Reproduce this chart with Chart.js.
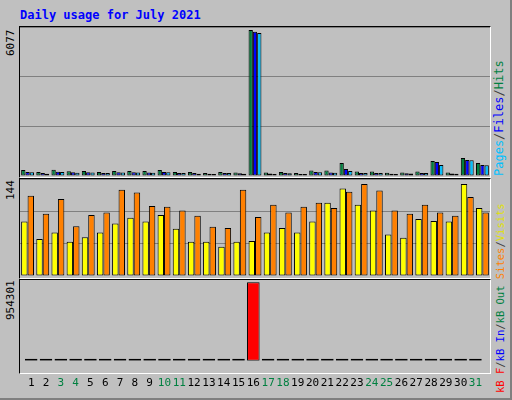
<!DOCTYPE html>
<html>
<head>
<script src="https://cdn.jsdelivr.net/npm/chart.js@4"></script>
<style>
body{margin:0;background:#fff;}
#wrap{position:absolute;left:0;top:0;width:510px;height:398px;background:#C0C0C0;border-right:2px solid #808080;border-bottom:2px solid #808080;font-family:"DejaVu Sans Mono",monospace;}
canvas{position:absolute;}
.panel{position:absolute;left:19px;width:470px;border-top:1px solid #000;border-left:1px solid #000;border-bottom:1px solid #fff;border-right:1px solid #fff;}
.rot{position:absolute;transform-origin:0 0;transform:rotate(-90deg);white-space:nowrap;font-size:11px;}
</style>
</head>
<body>
<div id="wrap">
  <div style="position:absolute;left:20px;top:8px;color:#0000FF;font-weight:bold;font-size:12px;">Daily usage for July 2021</div>
  <div class="panel" style="top:26px;height:150px;"></div>
  <div class="panel" style="top:178px;height:99px;"></div>
  <div class="panel" style="top:279px;height:93px;"></div>
  <canvas id="c1" style="left:20px;top:27px;"></canvas>
  <canvas id="c2" style="left:20px;top:179px;"></canvas>
  <canvas id="c3" style="left:20px;top:280px;"></canvas>
  <div class="rot" style="left:4px;top:56px;">6077</div>
  <div class="rot" style="left:4px;top:200px;">144</div>
  <div class="rot" style="left:4px;top:320px;">954301</div>
  <div class="rot" style="left:492px;top:176px;font-size:12px;"><span style="color:#00C0FF">Pages</span><span style="color:#404040">/</span><span style="color:#0000FF">Files</span><span style="color:#404040">/</span><span style="color:#008040">Hits</span></div>
  <div class="rot" style="left:494px;top:393px;font-size:10.5px;"><span style="color:#FF0000">kB F</span><span style="color:#404040">/</span><span style="color:#0000FF">kB In</span><span style="color:#404040">/</span><span style="color:#008040">kB Out</span> <span style="color:#FF8000">Sites</span><span style="color:#404040">/</span><span style="color:#E0E000">Visits</span></div>
</div>
<script>
const days = ['1','2','3','4','5','6','7','8','9','10','11','12','13','14','15','16','17','18','19','20','21','22','23','24','25','26','27','28','29','30','31'];
const weekend = ['3','4','10','11','17','18','24','25','31'];
const hits  = [250,170,260,200,210,170,210,210,210,250,170,170,120,170,150,6077,150,170,130,230,230,540,190,190,140,150,190,620,150,750,540];
const files = [170,120,180,160,160,130,160,160,150,170,130,120,90,130,110,6000,100,130,80,170,150,290,130,130,90,110,130,580,100,670,460];
const pages = [160,90,170,140,150,120,150,150,140,160,120,90,70,120,90,5950,80,110,60,160,140,210,120,120,80,100,120,460,90,660,450];
const visits = [84,57,67,53,60,67,81,90,84,94,73,53,53,45,53,54,67,74,67,84,113,135,110,101,64,59,88,85,84,142,105];
const sites  = [124,96,119,77,94,98,133,129,108,107,101,93,76,74,133,91,110,98,107,113,105,130,142,132,101,96,110,98,93,122,98];
const kbF = [4000,4000,4000,4000,4000,4000,4000,4000,4000,4000,4000,4000,4000,4000,4000,954301,4000,4000,4000,4000,4000,4000,4000,4000,4000,4000,4000,4000,4000,4000,4000];

function ds(label, data, color){
  return {label:label,data:data,backgroundColor:color,borderColor:'#000',borderWidth:1,borderSkipped:false,
          barPercentage:1,categoryPercentage:0.85,minBarLength:2};
}
function makeChart(id, w, h, datasets, max, showX, grid){
  const cv = document.getElementById(id);
  cv.width = w; cv.height = h;
  return new Chart(cv, {
    type:'bar',
    data:{labels:days, datasets:datasets},
    options:{
      responsive:false, animation:false, devicePixelRatio:1,
      plugins:{legend:{display:false},tooltip:{enabled:false}},
      layout:{padding:0},
      scales:{
        x:{display:showX, grid:{display:false}, border:{display:false},
           ticks:{autoSkip:false,maxRotation:0,padding:8,font:{family:'DejaVu Sans Mono',size:11},
                  color:c=>weekend.includes(days[c.index])?'#008040':'#000'}},
        y:{display:true,min:0,max:max,ticks:{display:false,stepSize:max/3},
           grid:{display:grid,color:'#808080',drawTicks:false},border:{display:false}}
      }
    }
  });
}
makeChart('c1',470,149,[ds('Hits',hits,'#008040'),ds('Files',files,'#0000FF'),ds('Pages',pages,'#00C0FF')],6077*1.02,false,true);
makeChart('c2',470,97,[ds('Visits',visits,'#FFFF00'),ds('Sites',sites,'#FF8000')],144*1.04,false,true);
makeChart('c3',470,118,[ds('kB F',kbF,'#FF0000')],954301*1.03,true,false);
</script>
</body>
</html>
